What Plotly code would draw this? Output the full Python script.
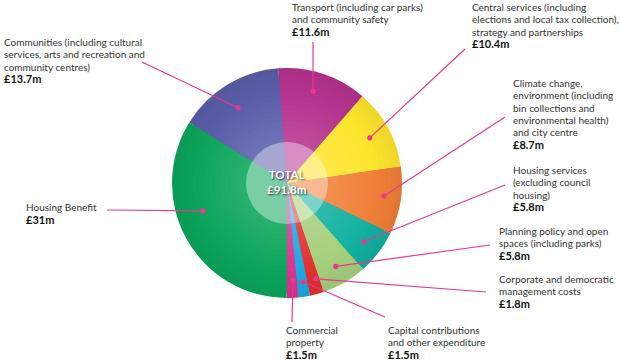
import math
import plotly.graph_objects as go

# ---------------- data ----------------
categories = [
    "Transport", "Central services", "Climate change", "Housing services",
    "Planning policy", "Corporate and democratic", "Capital contributions",
    "Commercial property", "Housing Benefit", "Communities",
]
values = [11.6, 10.4, 8.7, 5.8, 5.8, 1.8, 1.5, 1.5, 31.0, 13.7]
label_lines = [
    ["Transport (including car parks)", "and community safety"],
    ["Central services (including", "elections and local tax collection),", "strategy and partnerships"],
    ["Climate change,", "environment (including", "bin collections and", "environmental health)", "and city centre"],
    ["Housing services", "(excluding council", "housing)"],
    ["Planning policy and open", "spaces (including parks)"],
    ["Corporate and democratic", "management costs"],
    ["Capital contributions", "and other expenditure"],
    ["Commercial", "property"],
    ["Housing Benefit"],
    ["Communities (including cultural", "services, arts and recreation and", "community centres)"],
]
total_label = "TOTAL"

# ---------------- styles / layout ----------------
colors = ["#b5338f", "#fde52c", "#f07f38", "#11b1a0", "#a5cf7d",
          "#e3302f", "#1ba9e1", "#d93391", "#0ba55a", "#5a5ea9"]
W, H = 620, 360
CX, CY, R = 287, 183, 115
ROT = -4.5
LEADER = "#e8388f"
# per-label layout: text x, first-line y, leader end, dot angle nudge, dot radius fraction
label_x = [290, 470, 511, 511, 497, 497, 386, 284, 24, 2]
label_y0 = [7, 7, 83, 170, 231, 279, 330, 330, 207, 42]
leader_end = [(313, 42), (465, 49), (505, 117), (505, 185), (490, 245),
              (486, 292), (385, 317), (292, 322), (107, 210), (142, 62)]
dot_nudge = [-2.4, 0, -1.2, 0.2, -0.3, -1.7, -0.6, -0.8, 10.6, -1.6]
dot_frac = [0.83, 0.82, 0.85, 0.84, 0.84, 0.87, 0.87, 0.85, 0.77, 0.78]
LINE_H = 12.3
FONT = "Lato"
FS = 10.0


def px(x, y):
    return x / W, 1 - y / H


def blend(hex_c, t, target=(255, 255, 255)):
    r, g, b = int(hex_c[1:3], 16), int(hex_c[3:5], 16), int(hex_c[5:7], 16)
    r = round(r + (target[0] - r) * t)
    g = round(g + (target[1] - g) * t)
    b = round(b + (target[2] - b) * t)
    return f"rgb({r},{g},{b})"


fig = go.Figure()

# concentric pies to imitate the radial shading
n_rings = 14
for k in range(n_rings):
    frac = 1.0 - k * (0.6 / (n_rings - 1))
    t = -0.06 + k * (0.18 / (n_rings - 1))
    rr = R * frac
    x0, _ = px(CX - rr, 0)
    x1, _ = px(CX + rr, 0)
    _, y1 = px(0, CY - rr)
    _, y0 = px(0, CY + rr)
    if t < 0:
        cols = [blend(c, -t, (0, 0, 0)) for c in colors]
    else:
        cols = [blend(c, t) for c in colors]
    fig.add_trace(go.Pie(
        labels=categories, values=values, sort=False, direction="clockwise",
        rotation=ROT, textinfo="none", hoverinfo="label+value",
        marker=dict(colors=cols, line=dict(width=0)),
        domain=dict(x=[x0, x1], y=[y0, y1]), showlegend=False,
    ))

shapes = []
annotations = []

# translucent centre disc
cr = 41
a0, b1 = px(CX - cr, CY - cr)
a1, b0 = px(CX + cr, CY + cr)
shapes.append(dict(type="circle", xref="paper", yref="paper", x0=a0, x1=a1, y0=b0, y1=b1,
                   fillcolor="rgba(255,255,255,0.38)", line=dict(width=0)))

total = sum(values)
cum = 0.0
for i, v in enumerate(values):
    mid = ROT + (cum + v / 2) / total * 360 + dot_nudge[i]
    cum += v
    rr = R * dot_frac[i]
    dx = CX + rr * math.sin(math.radians(mid))
    dy = CY - rr * math.cos(math.radians(mid))
    ex, ey = leader_end[i]
    p0 = px(dx, dy)
    p1 = px(ex, ey)
    shapes.append(dict(type="line", xref="paper", yref="paper", x0=p0[0], y0=p0[1],
                       x1=p1[0], y1=p1[1], line=dict(color=LEADER, width=1.2)))
    d = 2.6
    q0 = px(dx - d, dy + d)
    q1 = px(dx + d, dy - d)
    shapes.append(dict(type="circle", xref="paper", yref="paper", x0=q0[0], y0=q0[1],
                       x1=q1[0], y1=q1[1], fillcolor=LEADER, line=dict(width=0)))
    lines = label_lines[i] + [f"<b>£{v:g}m</b>"]
    for j, ln in enumerate(lines):
        ax, ay = px(label_x[i], label_y0[i] + j * LINE_H)
        bold = ln.startswith("<b>")
        annotations.append(dict(
            x=ax, y=ay, xref="paper", yref="paper", text=ln, showarrow=False,
            xanchor="left", yanchor="middle",
            font=dict(family=FONT, size=FS + 1.0 if bold else FS,
                      color="#111" if bold else "#333"),
        ))

ax, ay = px(CX, 182)
annotations.append(dict(
    x=ax, y=ay, xref="paper", yref="paper",
    text=f"<b>{total_label}<br>£{total:.1f}m</b>", showarrow=False,
    xanchor="center", yanchor="middle", align="center",
    font=dict(family=FONT, size=11.6, color="white", shadow="1px 1px 2px rgba(0,0,0,0.7)"),
))

fig.update_layout(
    width=W, height=H, margin=dict(l=0, r=0, t=0, b=0),
    paper_bgcolor="white", plot_bgcolor="white",
    shapes=shapes, annotations=annotations, showlegend=False,
)
fig.write_html(
    "out.html",
    config={"displayModeBar": False},
    post_script="document.body.style.margin='0';document.body.style.overflow='hidden';",
)
